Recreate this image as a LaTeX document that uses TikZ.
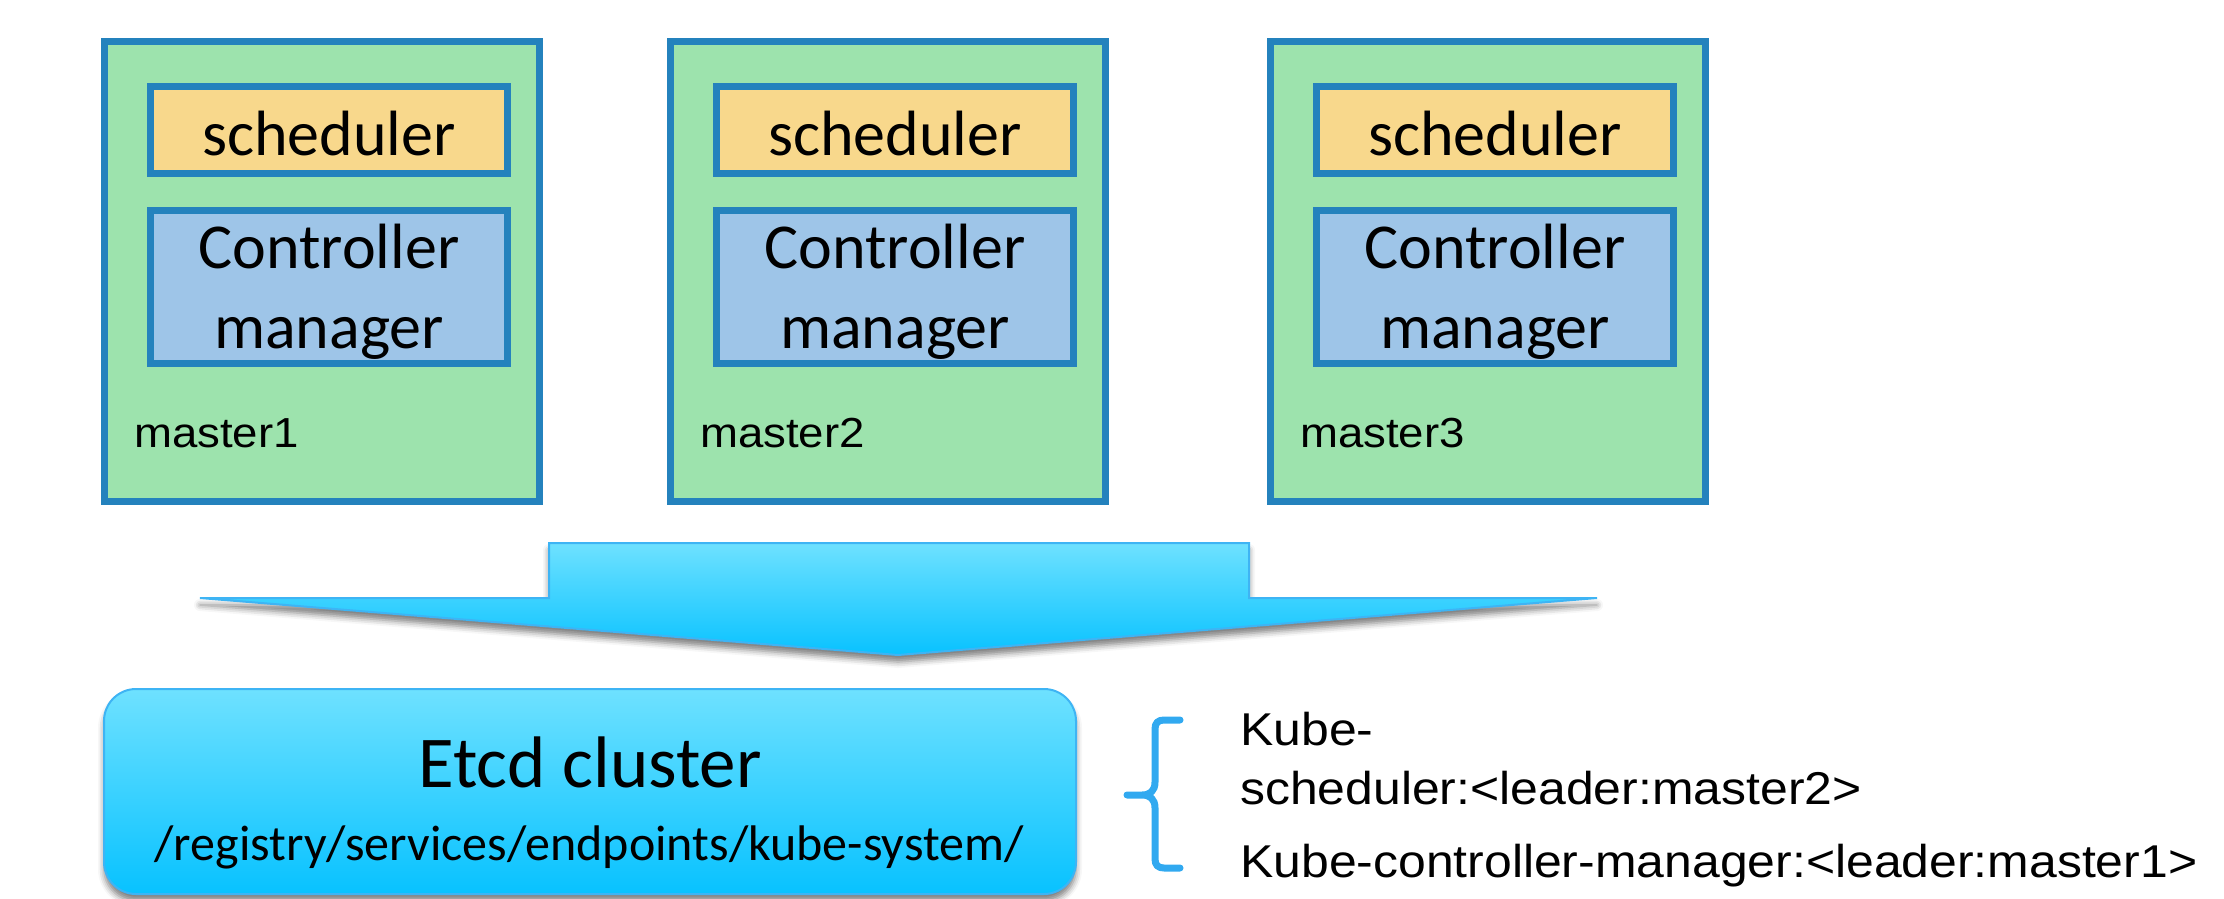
\documentclass[tikz,border=0pt]{standalone}
\usepackage{fontspec}
\setmainfont{Carlito}
\newfontfamily\arialfont[FakeStretch=1.085]{Liberation Sans}
\usetikzlibrary{shadows.blur}
\definecolor{mgreen}{HTML}{9DE3AD}
\definecolor{bordblue}{HTML}{2482BD}
\definecolor{schedfill}{HTML}{F8D88C}
\definecolor{ctrlfill}{HTML}{9EC5E8}
\definecolor{cyantop}{HTML}{6EE1FF}
\definecolor{cyanbot}{HTML}{08C2FF}
\definecolor{cyanline}{HTML}{3EB4F4}
\definecolor{bracecol}{HTML}{31A9F0}
\begin{document}
\begin{tikzpicture}[x=1pt,y=-1pt,
  masterbox/.style={draw=bordblue, fill=mgreen, line width=7pt, minimum width=435pt, minimum height=460pt, inner sep=0pt},
  schedbox/.style={draw=bordblue, fill=schedfill, line width=7pt, minimum width=357pt, minimum height=87pt, inner sep=0pt},
  ctrlbox/.style={draw=bordblue, fill=ctrlfill, line width=7pt, minimum width=357pt, minimum height=153pt, inner sep=0pt},
  boxtext/.style={font=\fontsize{64}{78}\selectfont, anchor=base, inner sep=0pt},
  mlabel/.style={font=\arialfont\fontsize{42}{50}\selectfont, anchor=base west, inner sep=0pt},
  notetext/.style={font=\arialfont\fontsize{46}{55}\selectfont, anchor=base west, inner sep=0pt},
  cyanshape/.style={draw=cyanline, line width=2pt, top color=cyantop, bottom color=cyanbot},
  softshadow/.style={blur shadow={shadow xshift=0pt, shadow yshift=-7pt, shadow blur radius=6pt, shadow opacity=50}}
]
\useasboundingbox (0,0) rectangle (2224,898);

% master boxes
\foreach \i/\l in {1/101, 2/667, 3/1267}{
  \node[masterbox] (m\i) at (\l+221, 271.5) {};
  \node[schedbox] (s\i) at (\l+228, 130) {};
  \node[ctrlbox] (c\i) at (\l+228, 287) {};
  \node[boxtext] (s\i t) at (\l+228, 155) {scheduler};
  \node[boxtext] (c\i a) at (\l+228, 268) {Controller};
  \node[boxtext] (c\i b) at (\l+228, 348) {manager};
  \node[mlabel] (m\i t) at (\l+33, 447) {master\i};
}

% big arrow
\draw[cyanshape, softshadow] (549,543) -- (1249,543) -- (1249,598) -- (1597,598)
  -- (898,655) -- (200,598) -- (549,598) -- cycle;

% etcd box
\node[cyanshape, softshadow, rounded corners=32pt, minimum width=972pt, minimum height=205pt, inner sep=0pt] (etcd) at (590,791.5) {};
\node[font=\fontsize{73}{88}\selectfont, anchor=base, inner sep=0pt] (etcdt) at (590,787) {Etcd cluster};
\node[font=\fontsize{50}{60}\selectfont, anchor=base, inner sep=0pt] (etcdp) at (589,860) {/registry/services/endpoints/kube-system/};

% brace
\coordinate (bt) at (1180,720);
\coordinate (bb) at (1180,868);
\coordinate (bm) at (1127,795);
\draw[bracecol, line width=7pt, line cap=round, line join=round]
  (bt) -- (1164,720) .. controls (1158,720) and (1155,723) .. (1155,729)
  -- (1155,782) .. controls (1155,791) and (1150,795) .. (1142,795) -- (bm)
  (1142,795) .. controls (1150,795) and (1155,799) .. (1155,808)
  -- (1155,859) .. controls (1155,865) and (1158,868) .. (1164,868) -- (bb);

% notes
\node[notetext] (n1) at (1240,745) {Kube-};
\node[notetext] (n2) at (1240,804) {scheduler:<leader:master2>};
\node[notetext] (n3) at (1240,877) {Kube-controller-manager:<leader:master1>};
\end{tikzpicture}
\end{document}
